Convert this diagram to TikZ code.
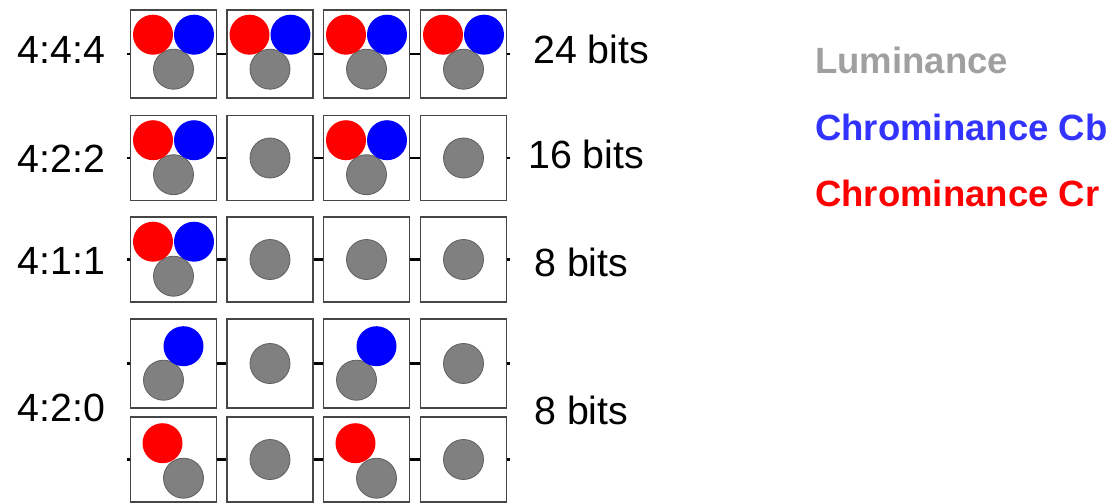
\documentclass[tikz,border=0pt]{standalone}
\usepackage{fontspec}
\setmainfont{Liberation Sans}
\usetikzlibrary{calc}
\definecolor{boxgray}{RGB}{70,70,70}
\definecolor{lumfill}{RGB}{128,128,128}
\definecolor{lumedge}{RGB}{95,95,95}
\definecolor{lumtext}{RGB}{160,160,160}
\definecolor{cbtext}{RGB}{51,51,255}
\definecolor{crfill}{RGB}{255,0,0}
\definecolor{cbfill}{RGB}{0,0,255}
\begin{document}
\begin{tikzpicture}[x=0.75pt,y=-0.75pt,
  box/.style={rectangle, draw=boxgray, line width=1.2pt, fill=white, minimum width=64.5pt, inner sep=0pt},
  dot/.style={circle, inner sep=0pt, minimum size=30pt},
  lum/.style={dot, fill=lumfill, draw=lumedge, line width=0.6pt},
  crd/.style={dot, fill=crfill},
  cbd/.style={dot, fill=cbfill},
  conn/.style={line width=1.6pt, black},
  lbl/.style={font=\fontsize{29.5}{32}\selectfont, inner sep=0pt},
  leg/.style={font=\fontsize{27.4}{30}\selectfont\bfseries, inner sep=0pt, anchor=west}]
\useasboundingbox (0,0) rectangle (1114,503);
% rows: name/center y/height
\foreach \r/\cy/\h in {1/54/88,2/158/85,3/259.5/85,4/363.5/89,5/459.5/85}{
  \foreach \c/\x in {1/173.5,2/270,3/366.5,4/463.5}{
    \node[box, minimum height=\h*0.75pt] (b\r\c) at (\x,\cy) {};
  }
  \draw[conn] (b\r1.east) -- (b\r2.west);
  \draw[conn] (b\r2.east) -- (b\r3.west);
  \draw[conn] (b\r3.east) -- (b\r4.west);
  \coordinate (sl\r) at ($(b\r1.west)+(-2.5,0)$);
  \coordinate (sr\r) at ($(b\r4.east)+(2.5,0)$);
  \draw[conn] (b\r1.west) -- (sl\r);
  \draw[conn] (b\r4.east) -- (sr\r);
}
% full samples (Y, Cb, Cr)
\foreach \r/\c in {1/1,1/2,1/3,1/4,2/1,2/3,3/1}{
  \node[lum] (y\r\c) at ($(b\r\c.north)+(0,60)$) {};
  \node[crd] (cr\r\c) at ($(b\r\c.north)+(-20.5,25.5)$) {};
  \node[cbd] (cb\r\c) at ($(b\r\c.north)+(20.5,25.5)$) {};
}
% luminance only
\foreach \r/\c in {2/2,2/4,3/2,3/3,3/4,4/2,4/4,5/2,5/4}{
  \node[lum] (y\r\c) at (b\r\c.center) {};
}
% 4:2:0 top row: Y + Cb
\foreach \c in {1,3}{
  \node[lum] (y4\c) at ($(b4\c.north)+(-10,62)$) {};
  \node[cbd] (cb4\c) at ($(b4\c.north)+(10,28)$) {};
}
% 4:2:0 bottom row: Y + Cr
\foreach \c in {1,3}{
  \node[lum] (y5\c) at ($(b5\c.north)+(10,62)$) {};
  \node[crd] (cr5\c) at ($(b5\c.north)+(-11,27)$) {};
}
% left labels
\node[lbl] (l1) at (61.5,49.5) {4:4:4};
\node[lbl] (l2) at (61.5,159) {4:2:2};
\node[lbl] (l3) at (61.5,261) {4:1:1};
\node[lbl] (l4) at (61.5,408) {4:2:0};
% bit labels
\node[lbl, anchor=west] (t1) at (533,49) {24 bits};
\node[lbl, anchor=west] (t2) at (528,154) {16 bits};
\node[lbl, anchor=west] (t3) at (534,262) {8 bits};
\node[lbl, anchor=west] (t4) at (534,410) {8 bits};
% legend
\node[leg, text=lumtext] (g1) at (815,60) {Luminance};
\node[leg, text=cbtext] (g2) at (815,127) {Chrominance Cb};
\node[leg, text=crfill] (g3) at (815,193) {Chrominance Cr};
\end{tikzpicture}
\end{document}
